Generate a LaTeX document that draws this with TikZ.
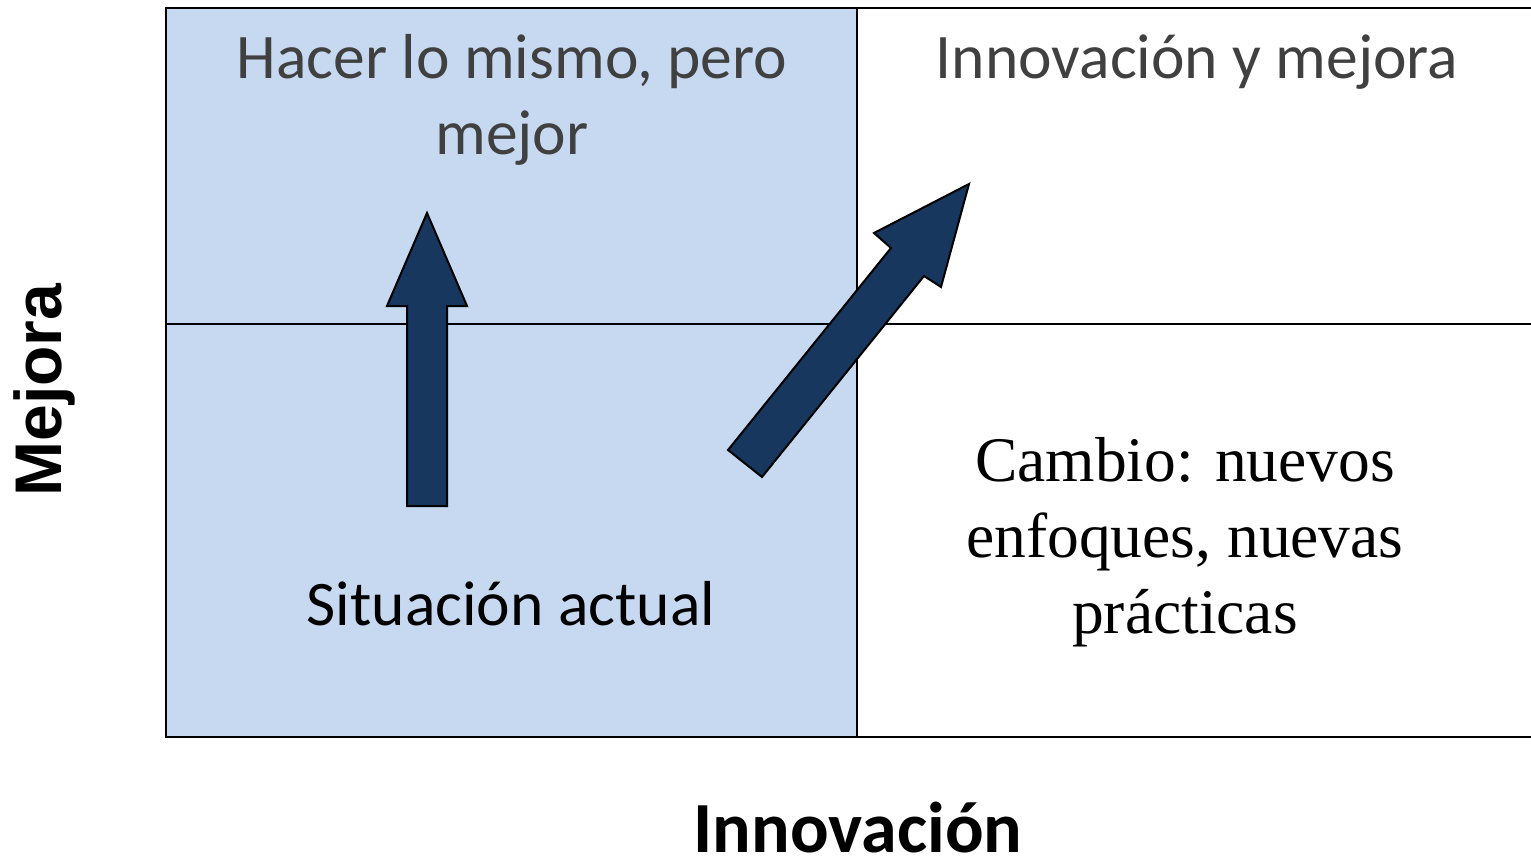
\documentclass[tikz,border=0pt]{standalone}
\usepackage{fontspec}
\setmainfont{Carlito}
\newfontfamily\timesfont{Liberation Serif}
\newfontfamily\arialfont{Liberation Sans}
\usepackage{tikz}
\usetikzlibrary{positioning}
\definecolor{celeste}{HTML}{C6D9F0}
\definecolor{azul}{HTML}{17375E}
\definecolor{gristxt}{HTML}{404040}

\begin{document}
\begin{tikzpicture}[x=1pt,y=-1pt,line width=2pt,line join=miter,
	rotulo/.style={font=\fontsize{63.5}{76}\selectfont,align=center,anchor=base},
	serif/.style={font=\timesfont\fontsize{63.5}{76}\selectfont,align=center,anchor=base},
	eje/.style={font=\bfseries\fontsize{72}{80}\selectfont,anchor=center,inner sep=0pt},
	flecha/.style={draw=black,line width=2pt,fill=azul}]
	\useasboundingbox (0,0) rectangle (1531,861);

	% cuadrantes
	\coordinate	(no)	at (166,8);
	\coordinate	(se)	at (1531,737);
	\coordinate	(n)		at (857,8);
	\coordinate	(s)		at (857,737);
	\coordinate	(o)		at (166,324);
	\coordinate	(e)		at (1531,324);
	\fill[celeste]	(no) rectangle (s);
	\draw	(se) -- (s) -- (166,737) -- (no) -- (n) -- (1531,8);
	\draw	(n) -- (s);
	\draw	(o) -- (e);

	% textos (base = ultima linea)
	\node[rotulo,text=gristxt]	(mismo)		at (512,155)	{Hacer lo mismo, pero\\mejor};
	\node[rotulo,text=gristxt]	(innova)	at (1197,79)	{Innovación y mejora};
	\node[rotulo]				(actual)	at (511,625)	{Situación actual};
	\node[serif]				(cambio)	at (1185,633)	{Cambio: nuevos\\enfoques, nuevas\\prácticas};
	\node[eje,font=\arialfont\bfseries\fontsize{66}{70}\selectfont,rotate=90]	(mejora)	at (44,390)	{Mejora};
	\node[eje]					(innovacion)	at (858,827)	{Innovación};

	% flechas
	\draw[flecha]	(407,506) -- (407,306) -- (387,306) -- (427,213) -- (467,306) -- (447,306) -- (447,506) -- cycle;
	\draw[flecha]	(728,450) -- (891,248) -- (874,233) -- (969,184) -- (941,287) -- (924,276) -- (762,477) -- cycle;
\end{tikzpicture}
\end{document}
